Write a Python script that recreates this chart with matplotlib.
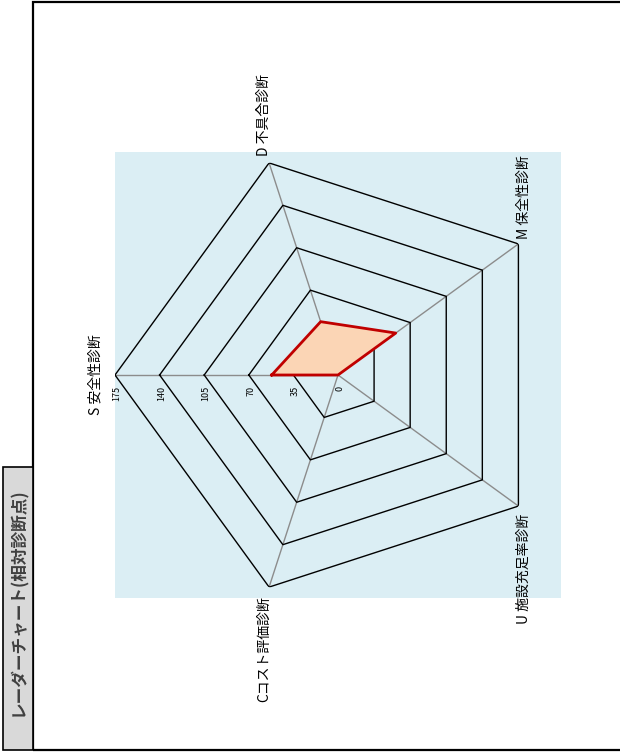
import numpy as np
import matplotlib.pyplot as plt
from matplotlib.patches import Rectangle

plt.rcParams['font.family'] = ['Noto Sans CJK JP', 'DejaVu Sans']

categories = ["S 安全性診断", "D 不具合診断", "M 保全性診断", "U 施設充足率診断", "Cコスト評価診断"]
values = [52, 44, 56, 0, 0]
ticks = [0, 35, 70, 105, 140, 175]
title = "レーダーチャート(相対診断点)"

W, H = 620, 754
fig = plt.figure(figsize=(W / 100, H / 100), dpi=100)

# frame + title box (the chart is laid out rotated by 90 degrees)
fig.patches.append(Rectangle((33 / W, 4 / H), 1.0, (752 - 4) / H, transform=fig.transFigure,
                             fill=False, ec='black', lw=1.6, zorder=5))
fig.patches.append(Rectangle((3 / W, 4 / H), 30 / W, (750 - 467) / H, transform=fig.transFigure,
                             fc='#D9D9D9', ec='black', lw=1.2, zorder=6))
fig.text(18 / W, 1 - 602 / H, title, rotation=90, ha='center', va='center',
         fontsize=12, fontweight='bold', color='#404040', zorder=7)

# plot area
cx, cy, R = 338, 375, 223
rect = [(cx - R) / W, 1 - (cy + R) / H, 2 * R / W, 2 * R / H]
bg = fig.add_axes(rect)
bg.set_facecolor('#DBEEF4')
bg.set_xticks([])
bg.set_yticks([])
for s in bg.spines.values():
    s.set_visible(False)

ax = fig.add_axes(rect, projection='polar')
ax.set_facecolor('none')
ax.set_theta_offset(np.pi)
ax.set_theta_direction(-1)
ax.set_ylim(0, ticks[-1])
ax.grid(False)
ax.spines['polar'].set_visible(False)
ax.set_xticks([])
ax.set_yticks([])

n = len(categories)
theta = np.arange(n) * 2 * np.pi / n
closed = np.append(theta, theta[0])

for t in theta:
    ax.plot([t, t], [0, ticks[-1]], color='#8C8C8C', lw=1.0, zorder=2)
for r in ticks[1:]:
    ax.plot(closed, [r] * (n + 1), color='black', lw=1.0, zorder=2)

v = np.append(values, values[0])
ax.fill(closed, v, color='#FBD5B5', zorder=3)
ax.plot(closed, v, color='#C00000', lw=2.0, zorder=4)

for r in ticks:
    ax.annotate(str(r), (0, r), xytext=(2, -11), textcoords='offset pixels',
                rotation=90, ha='center', va='top', fontsize=6.5, color='black')

offs = [(-12, 0, 'right', 'center'), (-5, 7, 'center', 'bottom'), (5, 5, 'center', 'bottom'),
        (5, -8, 'center', 'top'), (-5, -9, 'center', 'top')]
for t, lab, (dx, dy, ha, va) in zip(theta, categories, offs):
    ax.annotate(lab, (t, ticks[-1]), xytext=(dx, dy), textcoords='offset pixels',
                rotation=90, ha=ha, va=va, fontsize=10, color='black')

fig.savefig('out.png', dpi=100)
